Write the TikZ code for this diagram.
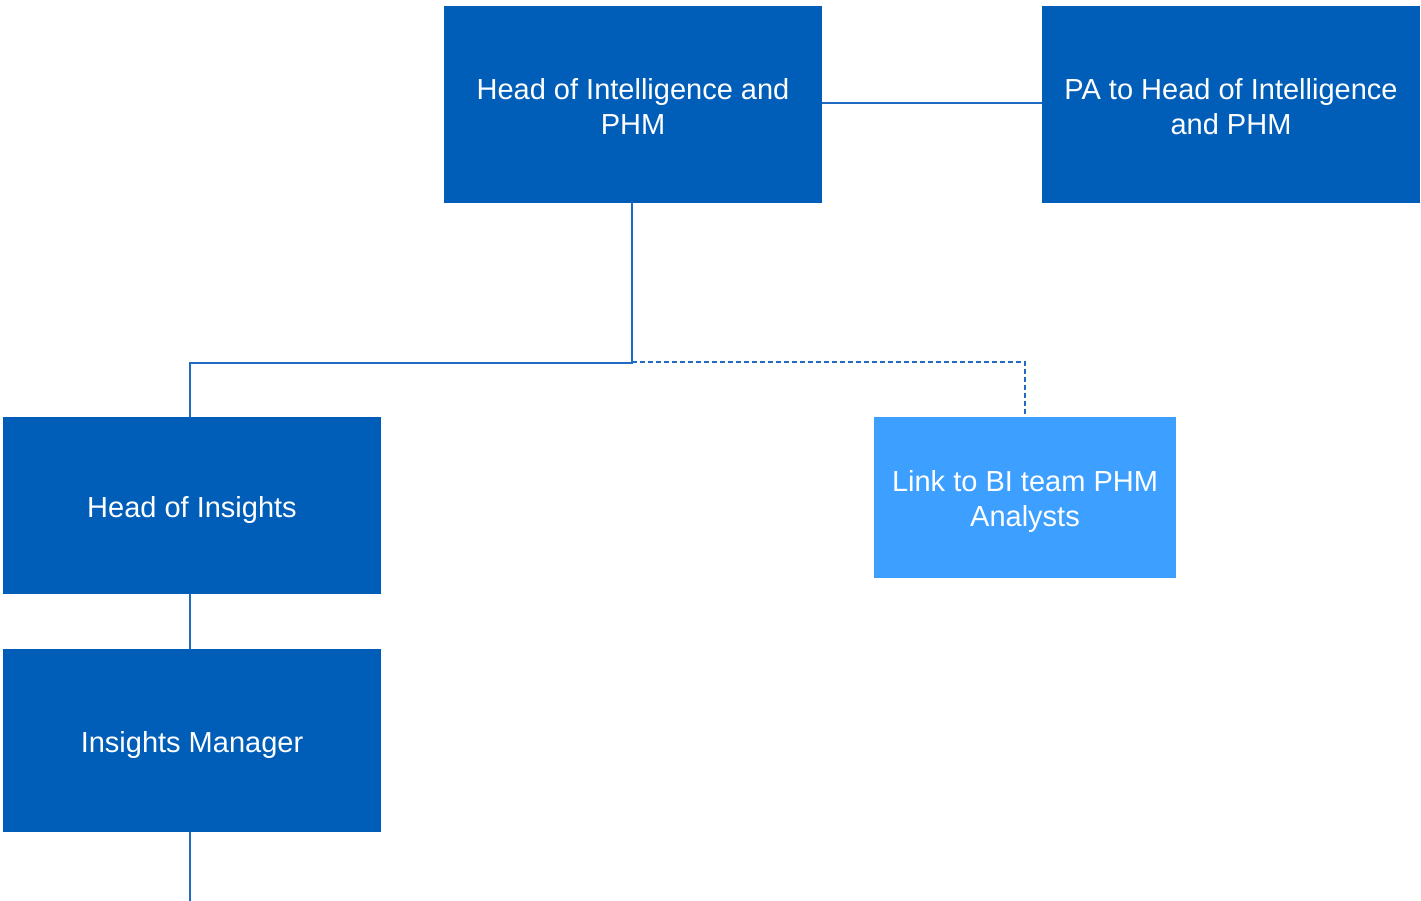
\documentclass[tikz,border=0pt]{standalone}
\usepackage{fontspec}
\setmainfont{Liberation Sans}
\definecolor{nhsblue}{HTML}{005EB8}
\definecolor{lightblue}{HTML}{3D9FFF}
\definecolor{linkline}{HTML}{1F6BC4}
\newcommand{\lowertext}[2]{\raisebox{-#1}[\height][\depth]{#2}}
\begin{document}
\begin{tikzpicture}[x=1pt,y=-1pt,
  orgbox/.style={fill=nhsblue,draw=none,text=white,align=center,inner sep=0pt,
    font=\fontsize{29}{35}\selectfont},
  lightbox/.style={orgbox,fill=lightblue},
  conn/.style={draw=linkline,line width=1.2pt},
  dconn/.style={conn,dash pattern=on 5pt off 3pt}]
\useasboundingbox (0,0) rectangle (1421,901);
\node[orgbox,minimum width=378pt,minimum height=197pt] (hi) at (633,104.5) {\lowertext{2pt}{\parbox{378pt}{\centering Head of Intelligence and\\PHM}}};
\node[orgbox,minimum width=378pt,minimum height=197pt] (pa) at (1231,104.5) {\lowertext{2pt}{\parbox{378pt}{\centering PA to Head of Intelligence\\and PHM}}};
\node[orgbox,minimum width=378pt,minimum height=177pt] (hins) at (192,505.5) {\lowertext{4pt}{Head of Insights}};
\node[orgbox,minimum width=378pt,minimum height=183pt] (im) at (192,740.5) {\lowertext{4pt}{Insights Manager}};
\node[lightbox,minimum width=302pt,minimum height=161pt] (bi) at (1025,497.5) {\lowertext{4pt}{\parbox{302pt}{\centering Link to BI team PHM\\Analysts}}};
\coordinate (j) at (632,363);
\coordinate (endim) at (190,901);
\draw[conn] (hi.east |- 0,103) -- (pa.west |- 0,103);
\draw[conn] (632,203) -- (j) -- (190,363) -- (190,417);
\draw[dconn] (632,362) -- (1025,362) -- (bi.north);
\draw[conn] (190,594) -- (190,649);
\draw[conn] (190,832) -- (endim);
\end{tikzpicture}
\end{document}
